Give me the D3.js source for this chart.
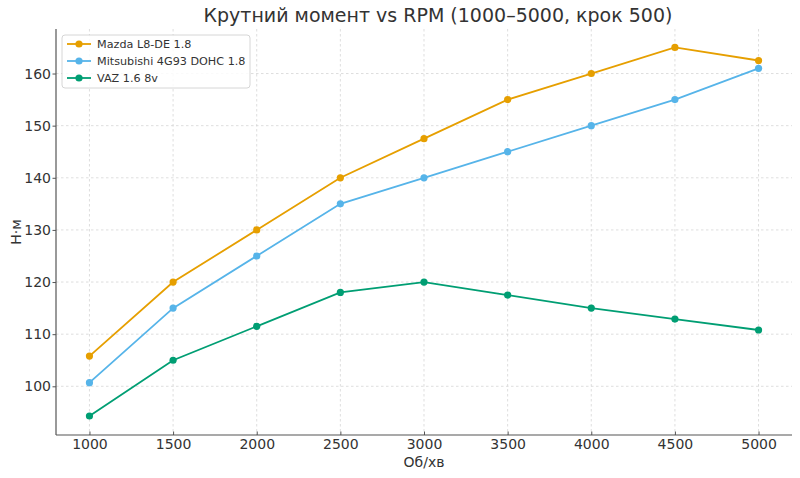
<!DOCTYPE html>
<html><head><meta charset="utf-8">
<script src="https://cdn.jsdelivr.net/npm/d3@7"></script>
<style>body{margin:0;background:#fff}svg{display:block;font-family:"DejaVu Sans",sans-serif}</style>
</head><body><svg id="c" width="800" height="478"></svg>
<script>
const rpm = [1000,1500,2000,2500,3000,3500,4000,4500,5000];
const seriesNames = ["Mazda L8-DE 1.8","Mitsubishi 4G93 DOHC 1.8","VAZ 1.6 8v"];
const mazda = [105.8,120,130,140,147.5,155,160,165,162.5];
const mitsubishi = [100.7,115,125,135,140,145,150,155,161];
const vaz = [94.3,105,111.5,118,120,117.5,115,112.9,110.8];
const colors = ["#E69F00","#56B4E9","#009E73"];
const xTicks = [1000,1500,2000,2500,3000,3500,4000,4500,5000];
const yTicks = [100,110,120,130,140,150,160];
const title = "Крутний момент vs RPM (1000–5000, крок 500)";
const xLabel = "Об/хв", yLabel = "Н·м";

const svg = d3.select("#c");
const L=56,R=792,T=29,B=435;
const x = d3.scaleLinear().domain([800,5200]).range([L,R]);
const y = d3.scaleLinear().domain([90.66,168.54]).range([B,T]);

// grid
const g = svg.append("g");
g.selectAll(".gx").data(xTicks).join("line")
 .attr("x1",d=>x(d)).attr("x2",d=>x(d)).attr("y1",T).attr("y2",B)
 .attr("stroke","#d0d0d0").attr("stroke-width",0.7).attr("stroke-dasharray","2.5,2.5");
g.selectAll(".gy").data(yTicks).join("line")
 .attr("y1",d=>y(d)).attr("y2",d=>y(d)).attr("x1",L).attr("x2",R)
 .attr("stroke","#d0d0d0").attr("stroke-width",0.7).attr("stroke-dasharray","2.5,2.5");

// axes
const xa = svg.append("g").attr("transform",`translate(0,${B})`)
 .call(d3.axisBottom(x).tickValues(xTicks).tickFormat(d3.format("d")).tickSize(-3.5).tickPadding(4));
const ya = svg.append("g").attr("transform",`translate(${L},0)`)
 .call(d3.axisLeft(y).tickValues(yTicks).tickFormat(d3.format("d")).tickSize(3.5).tickPadding(1.5));
[xa,ya].forEach(a=>{
  a.select(".domain").remove();
  a.selectAll(".tick line").attr("stroke","#555");
  a.selectAll(".tick text").attr("fill","#333").style("font-size","14px").style("font-family","DejaVu Sans");
});
svg.append("line").attr("x1",L).attr("x2",L).attr("y1",T).attr("y2",B).attr("stroke","#555").attr("stroke-width",1.2);
svg.append("line").attr("x1",L).attr("x2",R).attr("y1",B).attr("y2",B).attr("stroke","#555").attr("stroke-width",1.2);

// series
const data = [mazda,mitsubishi,vaz];
const line = d3.line().x((d,i)=>x(rpm[i])).y(d=>y(d));
data.forEach((s,k)=>{
  svg.append("path").datum(s).attr("d",line).attr("fill","none").attr("stroke",colors[k]).attr("stroke-width",1.8);
  svg.append("g").selectAll("circle").data(s).join("circle")
   .attr("cx",(d,i)=>x(rpm[i])).attr("cy",d=>y(d)).attr("r",3.6).attr("fill",colors[k]);
});

// labels
svg.append("text").attr("x",438).attr("y",22).attr("text-anchor","middle")
 .attr("fill","#333").style("font-size","19px").text(title);
svg.append("text").attr("x",424).attr("y",467).attr("text-anchor","middle")
 .attr("fill","#333").style("font-size","14px").text(xLabel);
svg.append("text").attr("transform","translate(21,232) rotate(-90)").attr("text-anchor","middle")
 .attr("fill","#333").style("font-size","14px").text(yLabel);

// legend
const lg = svg.append("g");
lg.append("rect").attr("x",62).attr("y",35).attr("width",188).attr("height",53).attr("rx",3)
 .attr("fill","#fff").attr("fill-opacity",0.85).attr("stroke","#ccc").attr("stroke-width",0.8);
seriesNames.forEach((n,k)=>{
  const yy = 44 + k*17;
  lg.append("line").attr("x1",67).attr("x2",91).attr("y1",yy).attr("y2",yy).attr("stroke",colors[k]).attr("stroke-width",1.8);
  lg.append("circle").attr("cx",79).attr("cy",yy).attr("r",3.6).attr("fill",colors[k]);
  lg.append("text").attr("x",97).attr("y",yy+4).attr("fill","#333").style("font-size","11.2px").text(n);
});
</script></body></html>
